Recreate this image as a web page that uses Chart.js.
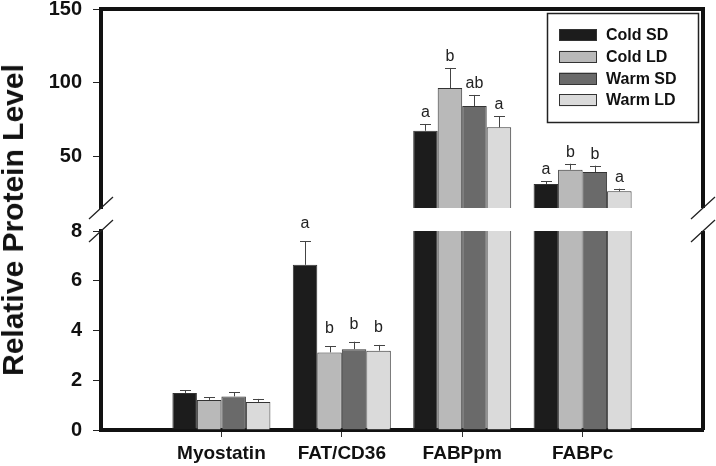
<!DOCTYPE html>
<html>
<head>
<meta charset="utf-8">
<script src="https://cdn.jsdelivr.net/npm/chart.js@4.4.1/dist/chart.umd.min.js"></script>
<style>
  body { margin: 0; background: #fff; }
  #wrap { position: relative; width: 716px; height: 466px; }
  #wrap canvas { position: absolute; left: 0; top: 0; }
  #ytitle {
    position: absolute; left: 13px; top: 220px;
    transform: translate(-50%, -50%) rotate(-90deg);
    white-space: nowrap; line-height: 1;
    font: bold 30px "Liberation Sans", Arial, sans-serif; color: #111;
  }
</style>
</head>
<body>
<div id="wrap">
  <canvas id="chartTop" width="716" height="466"></canvas>
  <canvas id="chartBottom" width="716" height="466"></canvas>
  <div id="ytitle">Relative Protein Level</div>
</div>
<script>
const categories = ["Myostatin", "FAT/CD36", "FABPpm", "FABPc"];

const coldSD = [1.49, 6.64, 67.4, 31.3];
const coldLD = [1.21, 3.12, 96.4, 41.0];
const warmSD = [1.35, 3.25, 84.2, 39.4];
const warmLD = [1.13, 3.19, 69.7, 26.3];

// standard errors (upper whisker only)
const coldSDErr = [0.10, 0.94, 4.6, 2.0];
const coldLDErr = [0.10, 0.24, 13.6, 4.0];
const warmSDErr = [0.16, 0.30, 7.5, 4.3];
const warmLDErr = [0.12, 0.23, 7.4, 1.8];

// significance letters
const coldSDSig = ["", "a", "a", "a"];
const coldLDSig = ["", "b", "b", "b"];
const warmSDSig = ["", "b", "ab", "b"];
const warmLDSig = ["", "b", "a", "a"];

const upperTicks = [50, 100, 150];
const lowerTicks = [0, 2, 4, 6, 8];

const FONT = '"Liberation Sans", Arial, sans-serif';

// empty slot on each side so the groups sit where the original has them
const labels = ["", ...categories, ""];
const pad = arr => [null, ...arr, null];

function makeDatasets() {
  return [
    { label: "Cold SD", data: pad(coldSD), err: pad(coldSDErr), sig: pad(coldSDSig), backgroundColor: "#1c1c1c" },
    { label: "Cold LD", data: pad(coldLD), err: pad(coldLDErr), sig: pad(coldLDSig), backgroundColor: "#b9b9b9" },
    { label: "Warm SD", data: pad(warmSD), err: pad(warmSDErr), sig: pad(warmSDSig), backgroundColor: "#6a6a6a" },
    { label: "Warm LD", data: pad(warmLD), err: pad(warmLDErr), sig: pad(warmLDSig), backgroundColor: "#dadada" },
  ].map(d => Object.assign(d, {
    borderColor: "#333",
    borderWidth: 1,
    borderSkipped: "start",
    categoryPercentage: 0.814,
    barPercentage: 1,
    clip: 0,
  }));
}

const errorBars = {
  id: "errorBars",
  afterDatasetsDraw(chart, args, opts) {
    const ctx = chart.ctx;
    const y = chart.scales.y;
    ctx.save();
    chart.data.datasets.forEach((ds, i) => {
      const meta = chart.getDatasetMeta(i);
      ds.data.forEach((v, j) => {
        if (v == null || v < y.min || v > y.max) return;
        const bar = meta.data[j];
        const top = y.getPixelForValue(v + ds.err[j]);
        const x = Math.round(bar.x) + 0.5;
        ctx.strokeStyle = "#444";
        ctx.lineWidth = 1;
        ctx.beginPath();
        ctx.moveTo(x, bar.y);
        ctx.lineTo(x, top);
        ctx.moveTo(x - 5.5, Math.round(top) + 0.5);
        ctx.lineTo(x + 5.5, Math.round(top) + 0.5);
        ctx.stroke();
        if (ds.sig[j]) {
          ctx.fillStyle = "#222";
          ctx.font = "16px " + FONT;
          ctx.textAlign = "center";
          ctx.textBaseline = "alphabetic";
          ctx.fillText(ds.sig[j], bar.x, top - opts.letterGap);
        }
      });
    });
    ctx.restore();
  },
};

const frame = {
  id: "frame",
  afterDraw(chart, args, opts) {
    const ctx = chart.ctx;
    const a = chart.chartArea;
    ctx.save();
    ctx.strokeStyle = "#111";
    ctx.lineWidth = 4;
    ctx.beginPath();
    if (opts.topLine) {
      ctx.moveTo(a.left - 2, a.top);
      ctx.lineTo(a.right + 2, a.top);
    }
    ctx.moveTo(a.right, a.top);
    ctx.lineTo(a.right, a.bottom);
    ctx.stroke();
    // break marks
    const by = opts.breakAt === "bottom" ? a.bottom : a.top;
    ctx.lineWidth = 1.3;
    ctx.strokeStyle = "#222";
    ctx.beginPath();
    [a.left, a.right].forEach(x => {
      ctx.moveTo(x - 12, by + 11);
      ctx.lineTo(x + 12, by - 11);
    });
    ctx.stroke();
    ctx.restore();
  },
};

const boxLegend = {
  id: "boxLegend",
  afterDraw(chart) {
    const ctx = chart.ctx;
    ctx.save();
    ctx.strokeStyle = "#222";
    ctx.lineWidth = 1.5;
    ctx.strokeRect(547.5, 13.5, 151, 109);
    chart.data.datasets.forEach((ds, i) => {
      const y0 = 29 + i * 21.8;
      ctx.fillStyle = ds.backgroundColor;
      ctx.fillRect(559, y0, 38, 12);
      ctx.lineWidth = 1;
      ctx.strokeStyle = "#333";
      ctx.strokeRect(559.5, Math.round(y0) + 0.5, 37, 11);
      ctx.fillStyle = "#111";
      ctx.font = "bold 16px " + FONT;
      ctx.textAlign = "left";
      ctx.textBaseline = "middle";
      ctx.fillText(ds.label, 606, y0 + 6.5);
    });
    ctx.restore();
  },
};

function yAxis(min, max, ticks) {
  return {
    min: min,
    max: max,
    afterBuildTicks: s => { s.ticks = ticks.map(v => ({ value: v })); },
    afterFit: s => { s.width = 101; s.paddingTop = 0; s.paddingBottom = 0; },
    border: { display: true, width: 4, color: "#111" },
    grid: { drawOnChartArea: false, drawTicks: true, tickLength: 8, color: "#222", lineWidth: 1 },
    ticks: { color: "#111", padding: 11, font: { family: FONT, size: 20, weight: "bold" } },
  };
}

function xAxis(show) {
  return {
    type: "category",
    offset: false,
    display: show,
    afterFit: s => { s.height = show ? 36 : 0; s.paddingLeft = 0; s.paddingRight = 0; },
    border: { display: true, width: 4, color: "#111" },
    grid: {
      offset: false,
      drawOnChartArea: false,
      tickLength: 7,
      lineWidth: 1,
      color: c => (c.index === 0 || c.index === labels.length - 1) ? "rgba(0,0,0,0)" : "#333",
    },
    ticks: { color: "#111", padding: 5, maxRotation: 0, autoSkip: false, font: { family: FONT, size: 19, weight: "bold" } },
  };
}

function baseOptions() {
  return {
    responsive: false,
    animation: false,
    plugins: { legend: { display: false }, tooltip: { enabled: false } },
  };
}

new Chart(document.getElementById("chartTop"), {
  type: "bar",
  data: { labels: labels, datasets: makeDatasets() },
  options: Object.assign(baseOptions(), {
    layout: { padding: { left: 0, top: 9, right: 13, bottom: 258 } },
    scales: { x: xAxis(false), y: yAxis(15, 150, upperTicks) },
    plugins: {
      legend: { display: false }, tooltip: { enabled: false },
      errorBars: { letterGap: 7 },
      frame: { topLine: true, breakAt: "bottom" },
    },
  }),
  plugins: [errorBars, frame, boxLegend],
});

new Chart(document.getElementById("chartBottom"), {
  type: "bar",
  data: { labels: labels, datasets: makeDatasets() },
  options: Object.assign(baseOptions(), {
    layout: { padding: { left: 0, top: 231, right: 13, bottom: 0 } },
    scales: { x: xAxis(true), y: yAxis(0, 8, lowerTicks) },
    plugins: {
      legend: { display: false }, tooltip: { enabled: false },
      errorBars: { letterGap: 13 },
      frame: { topLine: false, breakAt: "top" },
    },
  }),
  plugins: [errorBars, frame],
});
</script>
</body>
</html>
